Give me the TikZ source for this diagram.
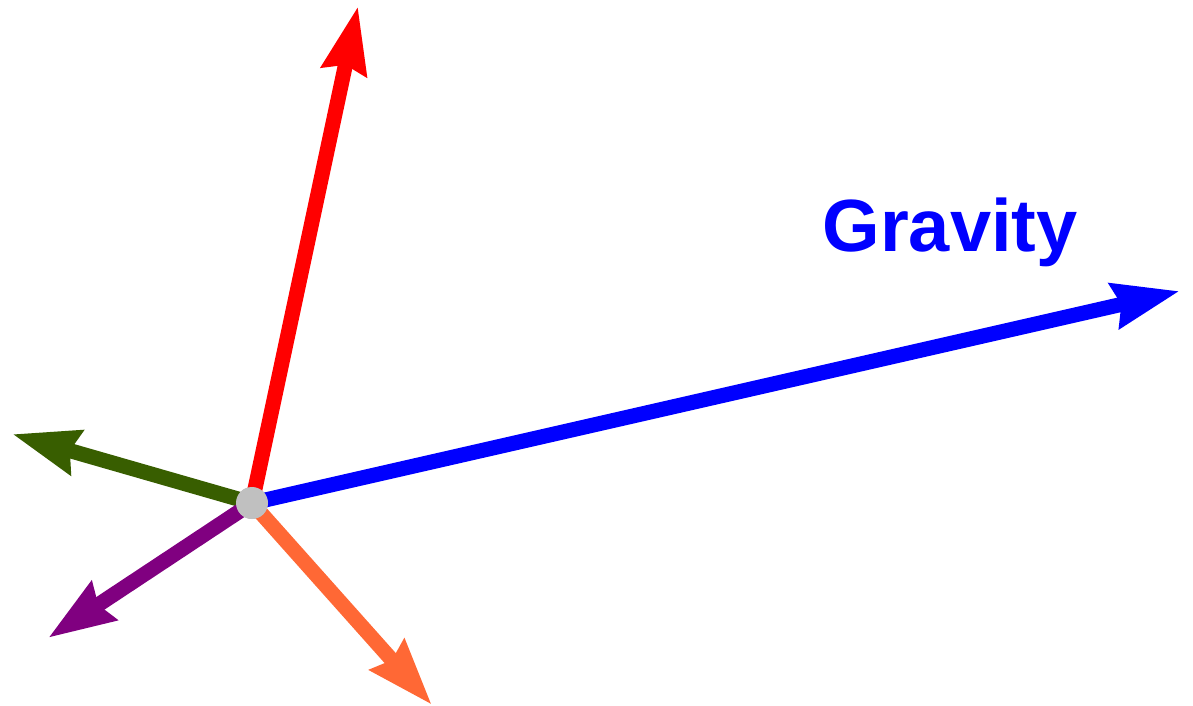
\documentclass[tikz,border=0pt]{standalone}
\usepackage{fontspec}
\setsansfont{Liberation Sans}
\usetikzlibrary{arrows.meta}
\definecolor{cRed}{HTML}{FF0000}
\definecolor{cBlue}{HTML}{0000FF}
\definecolor{cGreen}{HTML}{385E00}
\definecolor{cPurple}{HTML}{800080}
\definecolor{cOrange}{HTML}{FF6835}
\definecolor{cDot}{HTML}{C0C0C0}
\begin{document}
\begin{tikzpicture}[
    x=0.5pt, y=-0.5pt,
    vec/.style={-{Stealth[length=33pt,width=22pt,inset=3pt]}, line width=7.5pt},
    dot/.style={circle, fill=cDot, minimum size=16pt, inner sep=0pt}]

    \useasboundingbox (0,0) rectangle (1193,706);

    \node[dot] (o) at (252,503) {};
    \coordinate (up)    at (358,6);
    \coordinate (grav)  at (1180,291);
    \coordinate (left)  at (12,434);
    \coordinate (down)  at (48,638);
    \coordinate (right) at (432,705);

    \node[text=cBlue, font=\sffamily\bfseries\fontsize{37}{40}\selectfont]
      (lbl) at (950,232) {Gravity};

    \draw[vec, cRed]    (o.center) -- (up);
    \draw[vec, cBlue]   (o.center) -- (grav);
    \draw[vec, cGreen]  (o.center) -- (left);
    \draw[vec, cPurple] (o.center) -- (down);
    \draw[vec, cOrange] (o.center) -- (right);
    \node[dot] at (o) {};
  \end{tikzpicture}
\end{document}
